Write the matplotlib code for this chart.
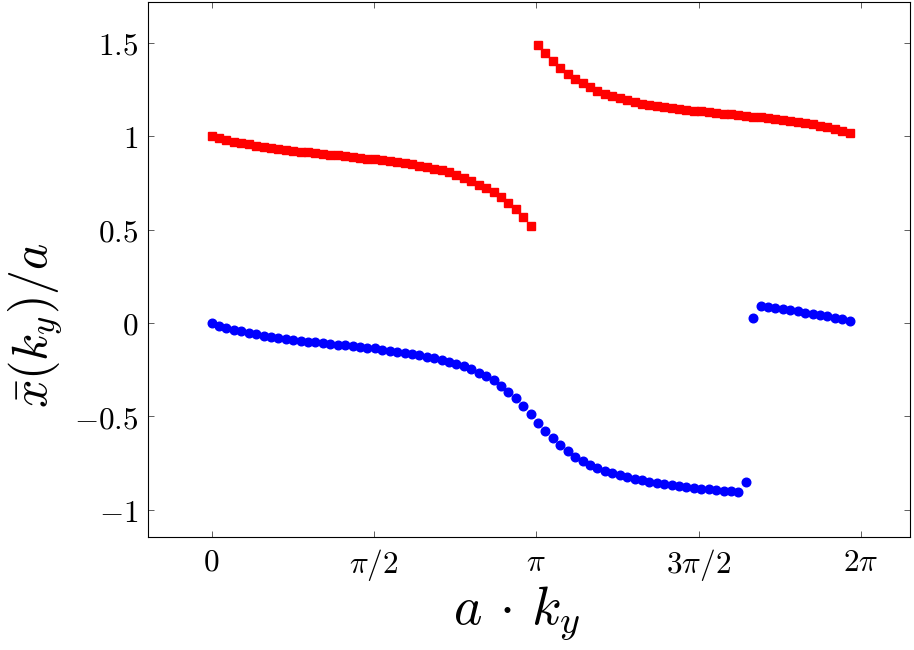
import numpy as np
import matplotlib
matplotlib.use('Agg')
import matplotlib.pyplot as plt

plt.rcParams['mathtext.fontset'] = 'cm'
plt.rcParams['font.family'] = 'serif'
plt.rcParams['font.serif'] = ['DejaVu Serif']

# momentum grid (87 samples across the Brillouin zone)
step = 0.0718
ky = np.arange(87) * step

# upper band (red squares)
x_red = [1.000, 0.990, 0.980, 0.970, 0.962, 0.955, 0.948, 0.942, 0.936, 0.931,
         0.926, 0.921, 0.916, 0.912, 0.908, 0.904, 0.900, 0.896, 0.892, 0.888,
         0.884, 0.879, 0.875, 0.870, 0.865, 0.860, 0.855, 0.849, 0.842, 0.835,
         0.826, 0.816, 0.805, 0.791, 0.775, 0.757, 0.740, 0.722, 0.701, 0.676,
         0.644, 0.608, 0.566, 0.520,
         1.485, 1.442, 1.403, 1.366, 1.333, 1.305, 1.281, 1.260, 1.242, 1.227,
         1.214, 1.202, 1.191, 1.180, 1.171, 1.164, 1.158, 1.153, 1.148, 1.144,
         1.140, 1.136, 1.132, 1.128, 1.124, 1.120, 1.116, 1.112, 1.108, 1.104,
         1.100, 1.095, 1.090, 1.085, 1.080, 1.075, 1.069, 1.062, 1.055, 1.047,
         1.040, 1.028, 1.014]

# lower band (blue circles)
x_blue = [0.000, -0.016, -0.027, -0.036, -0.045, -0.053, -0.061, -0.068, -0.075, -0.080,
          -0.086, -0.091, -0.095, -0.100, -0.103, -0.107, -0.112, -0.116, -0.119, -0.125,
          -0.128, -0.134, -0.136, -0.143, -0.148, -0.153, -0.160, -0.166, -0.173, -0.182,
          -0.189, -0.198, -0.207, -0.219, -0.232, -0.246, -0.266, -0.283, -0.306, -0.335,
          -0.367, -0.401, -0.442, -0.487, -0.533, -0.578, -0.617, -0.654, -0.686, -0.715,
          -0.738, -0.758, -0.774, -0.790, -0.802, -0.815, -0.824, -0.832, -0.841, -0.849,
          -0.856, -0.861, -0.866, -0.872, -0.877, -0.881, -0.886, -0.889, -0.893, -0.897,
          -0.900, -0.904, -0.850,
          0.028, 0.091, 0.085, 0.080, 0.074, 0.068, 0.063, 0.056, 0.050, 0.043,
          0.036, 0.028, 0.020, 0.010]

xticks = [0, np.pi / 2, np.pi, 3 * np.pi / 2, 2 * np.pi]
xtick_labels = [r'$0$', r'$\pi/2$', r'$\pi$', r'$3\pi/2$', r'$2\pi$']
yticks = [-1, -0.5, 0, 0.5, 1, 1.5]
ytick_labels = [r'$-1$', r'$-0.5$', r'$0$', r'$0.5$', r'$1$', r'$1.5$']

fig = plt.figure(figsize=(9.14, 6.5), dpi=100)
ax = fig.add_axes([0.162, 0.174, 0.834, 0.823])

ax.plot(ky, x_red, linestyle='none', marker='s', ms=6, color='red', mec='red')
ax.plot(ky, x_blue, linestyle='none', marker='o', ms=6.2, color='blue', mec='blue')

ax.set_xlim(-0.615, 6.762)
ax.set_ylim(-1.144, 1.717)
ax.set_xticks(xticks)
ax.set_xticklabels(xtick_labels)
ax.set_yticks(yticks)
ax.set_yticklabels(ytick_labels)
ax.tick_params(direction='in', top=True, right=True, length=4, width=0.6,
               labelsize=22.5, colors='#444444', labelcolor='black', pad=7)
for s in ax.spines.values():
    s.set_linewidth(0.8)

ax.set_xlabel(r'$a\,\cdot\,k_y$', fontsize=39)
ax.set_ylabel(r'$\bar{x}(k_y)/a$', fontsize=36)
ax.xaxis.set_label_coords(0.483, -0.088)
ax.yaxis.set_label_coords(-0.11, 0.396)

fig.savefig('out.png', dpi=100)
